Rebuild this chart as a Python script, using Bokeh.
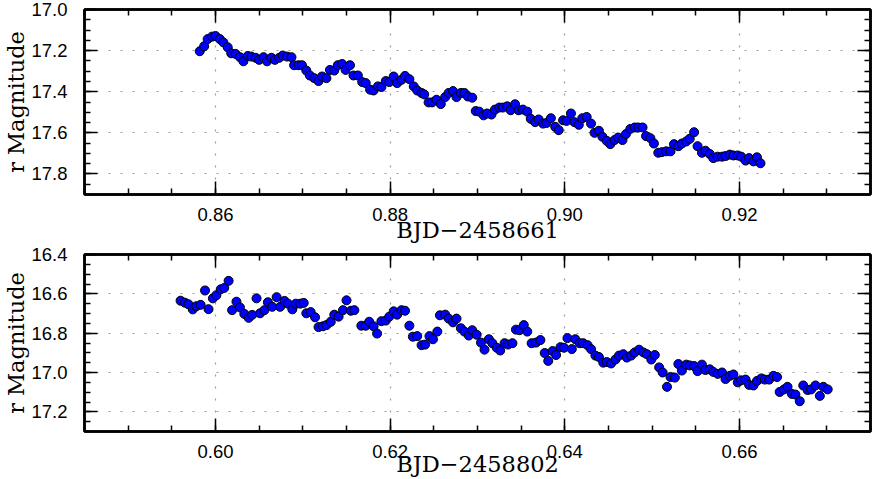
from bokeh.plotting import figure
from bokeh.layouts import column
from bokeh.models import (Range1d, LinearAxis, SingleIntervalTicker,
                          NumeralTickFormatter, CustomLabelingPolicy)
from bokeh.embed import file_html
from bokeh.resources import INLINE

# ---- data: night 1 (BJD - 2458661) ----
x1 = [0.8582, 0.8587, 0.8591, 0.8596, 0.8600, 0.8605, 0.8609, 0.8614, 0.8618, 0.8623,
      0.8628, 0.8632, 0.8637, 0.8641, 0.8646, 0.8650, 0.8655, 0.8659, 0.8664, 0.8668,
      0.8673, 0.8677, 0.8682, 0.8687, 0.8690, 0.8695, 0.8699, 0.8704, 0.8708, 0.8713,
      0.8718, 0.8722, 0.8727, 0.8731, 0.8736, 0.8740, 0.8745, 0.8749, 0.8754, 0.8758,
      0.8763, 0.8768, 0.8772, 0.8777, 0.8781, 0.8786, 0.8790, 0.8795, 0.8799, 0.8804,
      0.8808, 0.8813, 0.8817, 0.8822, 0.8827, 0.8831, 0.8836, 0.8839, 0.8844, 0.8848,
      0.8853, 0.8858,
      0.8863, 0.8867, 0.8872, 0.8876, 0.8881, 0.8885, 0.8889, 0.8894, 0.8898, 0.8902,
      0.8907, 0.8911, 0.8916, 0.8920, 0.8925, 0.8929, 0.8934, 0.8938, 0.8943, 0.8947,
      0.8952, 0.8957, 0.8961, 0.8966, 0.8970, 0.8975, 0.8979, 0.8984, 0.8989, 0.8993,
      0.8998, 0.9002, 0.9007, 0.9011, 0.9016, 0.9020, 0.9025, 0.9030, 0.9034, 0.9039,
      0.9043, 0.9048, 0.9052, 0.9057, 0.9061, 0.9066, 0.9070, 0.9075, 0.9080, 0.9084,
      0.9089, 0.9093, 0.9098, 0.9102, 0.9107, 0.9111, 0.9116, 0.9121, 0.9125, 0.9130,
      0.9134, 0.9139, 0.9143, 0.9148, 0.9152, 0.9157, 0.9161, 0.9166, 0.9170, 0.9175,
      0.9180, 0.9184, 0.9189, 0.9193, 0.9198, 0.9202, 0.9207, 0.9211, 0.9216, 0.9220,
      0.9224]
y1 = [17.203, 17.179, 17.144, 17.132, 17.129, 17.144, 17.160, 17.184, 17.213, 17.216,
      17.232, 17.252, 17.226, 17.229, 17.235, 17.245, 17.232, 17.252, 17.235, 17.245,
      17.235, 17.224, 17.229, 17.232, 17.271, 17.271, 17.271, 17.297, 17.321, 17.334,
      17.348, 17.326, 17.334, 17.294, 17.297, 17.271, 17.265, 17.294, 17.271, 17.321,
      17.321, 17.353, 17.358, 17.390, 17.394, 17.374, 17.377, 17.348, 17.353, 17.326,
      17.358, 17.342, 17.323, 17.339, 17.374, 17.394, 17.406, 17.413, 17.452, 17.452,
      17.439, 17.460,
      17.426, 17.406, 17.397, 17.426, 17.406, 17.406, 17.423, 17.429, 17.494, 17.497,
      17.515, 17.506, 17.511, 17.487, 17.477, 17.477, 17.471, 17.490, 17.461, 17.490,
      17.487, 17.497, 17.532, 17.548, 17.535, 17.555, 17.552, 17.529, 17.571, 17.587,
      17.539, 17.542, 17.506, 17.548, 17.561, 17.529, 17.523, 17.555, 17.600, 17.590,
      17.619, 17.639, 17.655, 17.635, 17.623, 17.635, 17.606, 17.581, 17.574, 17.574,
      17.574, 17.616, 17.626, 17.652, 17.697, 17.694, 17.690, 17.690, 17.655, 17.665,
      17.652, 17.642, 17.629, 17.597, 17.665, 17.697, 17.687, 17.703, 17.723, 17.716,
      17.716, 17.713, 17.706, 17.710, 17.710, 17.716, 17.735, 17.723, 17.739, 17.719,
      17.748]

# ---- data: night 2 (BJD - 2458802) ----
x2 = [0.5960, 0.5965, 0.5969, 0.5974, 0.5978, 0.5983, 0.5988, 0.5992, 0.5997, 0.6001,
      0.6006, 0.6010, 0.6015, 0.6019, 0.6024, 0.6028, 0.6033, 0.6038, 0.6042, 0.6047,
      0.6051, 0.6056, 0.6060, 0.6065, 0.6070, 0.6074, 0.6079, 0.6083, 0.6088, 0.6092,
      0.6097, 0.6101, 0.6104, 0.6109, 0.6114, 0.6118, 0.6123, 0.6127, 0.6132, 0.6136,
      0.6141, 0.6146, 0.6150, 0.6155, 0.6159, 0.6167, 0.6172, 0.6176, 0.6181, 0.6185,
      0.6190, 0.6195, 0.6199, 0.6204, 0.6208, 0.6213, 0.6217, 0.6222, 0.6226, 0.6231,
      0.6236, 0.6240, 0.6245, 0.6249, 0.6254, 0.6257,
      0.6263, 0.6267, 0.6272, 0.6276, 0.6281, 0.6285, 0.6290, 0.6294, 0.6299, 0.6304,
      0.6308, 0.6313, 0.6317, 0.6322, 0.6326, 0.6331, 0.6335, 0.6340, 0.6344, 0.6348,
      0.6353, 0.6357, 0.6362, 0.6367, 0.6372, 0.6377, 0.6381, 0.6386, 0.6390, 0.6395,
      0.6399, 0.6403, 0.6408, 0.6412, 0.6417, 0.6421, 0.6426, 0.6430, 0.6435, 0.6439,
      0.6444, 0.6448, 0.6453, 0.6458, 0.6462, 0.6467, 0.6471, 0.6476, 0.6480, 0.6485,
      0.6490, 0.6494, 0.6499, 0.6503, 0.6508, 0.6512, 0.6517, 0.6521, 0.6526, 0.6530,
      0.6534, 0.6539, 0.6543, 0.6548, 0.6552, 0.6557, 0.6561, 0.6566, 0.6570, 0.6575,
      0.6580, 0.6584, 0.6589, 0.6593, 0.6598, 0.6602, 0.6607, 0.6611, 0.6616, 0.6620,
      0.6625, 0.6629, 0.6634, 0.6639, 0.6643, 0.6646, 0.6651, 0.6655, 0.6660, 0.6664,
      0.6669, 0.6673, 0.6678, 0.6682, 0.6687, 0.6692, 0.6696, 0.6701]
y2 = [16.635, 16.645, 16.653, 16.679, 16.663, 16.656, 16.583, 16.678, 16.623, 16.607,
      16.577, 16.570, 16.534, 16.683, 16.640, 16.669, 16.702, 16.722, 16.707, 16.623,
      16.699, 16.683, 16.643, 16.666, 16.617, 16.666, 16.636, 16.650, 16.679, 16.650,
      16.650, 16.646, 16.699, 16.693, 16.719, 16.769, 16.765, 16.759, 16.742, 16.706,
      16.716, 16.683, 16.633, 16.686, 16.683, 16.762, 16.762, 16.742, 16.765, 16.802,
      16.739, 16.736, 16.716, 16.689, 16.706, 16.683, 16.686, 16.762, 16.818, 16.815,
      16.861, 16.858, 16.815, 16.831, 16.792, 16.709,
      16.706, 16.726, 16.745, 16.726, 16.775, 16.792, 16.812, 16.785, 16.808, 16.848,
      16.884, 16.831, 16.851, 16.874, 16.888, 16.851, 16.858, 16.851, 16.782, 16.785,
      16.759, 16.792, 16.851, 16.848, 16.835, 16.901, 16.941, 16.891, 16.911, 16.871,
      16.874, 16.825, 16.881, 16.831, 16.851, 16.851, 16.861, 16.881, 16.914, 16.921,
      16.950, 16.947, 16.954, 16.934, 16.914, 16.907, 16.924, 16.914, 16.898, 16.884,
      16.898, 16.907, 16.934, 16.911, 16.974, 17.000, 17.073, 17.023, 17.026, 16.957,
      16.990, 16.960, 16.964, 16.967, 16.993, 16.960, 16.987, 16.984, 16.997, 17.007,
      17.000, 17.033, 17.017, 17.010, 17.050, 17.040, 17.036, 17.063, 17.066, 17.043,
      17.030, 17.036, 17.036, 17.017, 17.023, 17.099, 17.086, 17.073, 17.109, 17.112,
      17.146, 17.066, 17.089, 17.086, 17.066, 17.119, 17.073, 17.086]

panels = [
    dict(x=x1, y=y1, xr=(0.845, 0.935), yr=(17.9, 17.0), xlabel="BJD\u22122458661",
         height=245, top=9, bottom=51, lab_standoff=-7),
    dict(x=x2, y=y2, xr=(0.585, 0.675), yr=(17.3, 16.4), xlabel="BJD\u22122458802",
         height=234, top=9, bottom=46, lab_standoff=-10),
]

TICK_FONT = "Liberation Sans"
LABEL_FONT = "DejaVu Serif"
FRAME_W = 2.5
NO_LABELS = "const ids = Array.from(indices); for (const i of ids) { indices.unset(i) } return indices"


def style_axis(ax, show_labels):
    ax.major_tick_in = 13
    ax.major_tick_out = 0
    ax.minor_tick_in = 6
    ax.minor_tick_out = 0
    ax.major_tick_line_width = 1.5
    ax.minor_tick_line_width = 1.5
    ax.major_tick_line_color = "black"
    ax.minor_tick_line_color = "black"
    ax.axis_line_width = FRAME_W
    ax.axis_line_color = "black"
    if show_labels:
        ax.major_label_text_font = TICK_FONT
        ax.major_label_text_font_size = "18.5px"
        ax.major_label_text_color = "black"
    else:
        ax.major_label_policy = CustomLabelingPolicy(code=NO_LABELS)
        ax.major_label_text_font_size = "0px"
        ax.major_label_standoff = 0


figs = []
for pn in panels:
    xt = SingleIntervalTicker(interval=0.02, num_minor_ticks=4)
    yt = SingleIntervalTicker(interval=0.2, num_minor_ticks=4)
    p = figure(width=872, height=pn["height"], output_backend="svg",
               toolbar_location=None,
               x_range=Range1d(*pn["xr"]), y_range=Range1d(*pn["yr"]),
               min_border_left=80, min_border_right=2,
               min_border_top=pn["top"], min_border_bottom=pn["bottom"])
    p.outline_line_color = "black"
    p.outline_line_width = FRAME_W
    p.background_fill_color = "white"
    p.border_fill_color = "white"

    p.xaxis.ticker = xt
    p.yaxis.ticker = yt
    p.xaxis.formatter = NumeralTickFormatter(format="0.00")
    p.yaxis.formatter = NumeralTickFormatter(format="0.0")
    for ax in p.xaxis + p.yaxis:
        style_axis(ax, True)
    p.xaxis.major_label_standoff = 13
    p.yaxis.major_label_standoff = 17
    p.xaxis.axis_label = pn["xlabel"]
    p.yaxis.axis_label = "r Magnitude"
    for ax in p.xaxis + p.yaxis:
        ax.axis_label_text_font = LABEL_FONT
        ax.axis_label_text_font_size = "22.5px"
        ax.axis_label_text_font_style = "normal"
        ax.axis_label_text_color = "black"
        ax.axis_label_text_line_height = 0.8
    p.xaxis.axis_label_standoff = pn["lab_standoff"]
    p.yaxis.axis_label_standoff = -1

    top_ax = LinearAxis(ticker=xt)
    style_axis(top_ax, False)
    p.add_layout(top_ax, "above")
    right_ax = LinearAxis(ticker=yt)
    style_axis(right_ax, False)
    p.add_layout(right_ax, "right")

    for g in (p.xgrid, p.ygrid):
        g.grid_line_color = "#9a9a9a"
        g.grid_line_dash = "2 10"
        g.grid_line_width = 1.2
    p.xgrid.ticker = xt
    p.ygrid.ticker = yt

    p.scatter(x=pn["x"], y=pn["y"], size=9, marker="circle",
              fill_color="#0000ff", line_color="black", line_width=1)
    figs.append(p)

layout = column(*figs, spacing=0)
open("out.html", "w").write(file_html(layout, INLINE))
